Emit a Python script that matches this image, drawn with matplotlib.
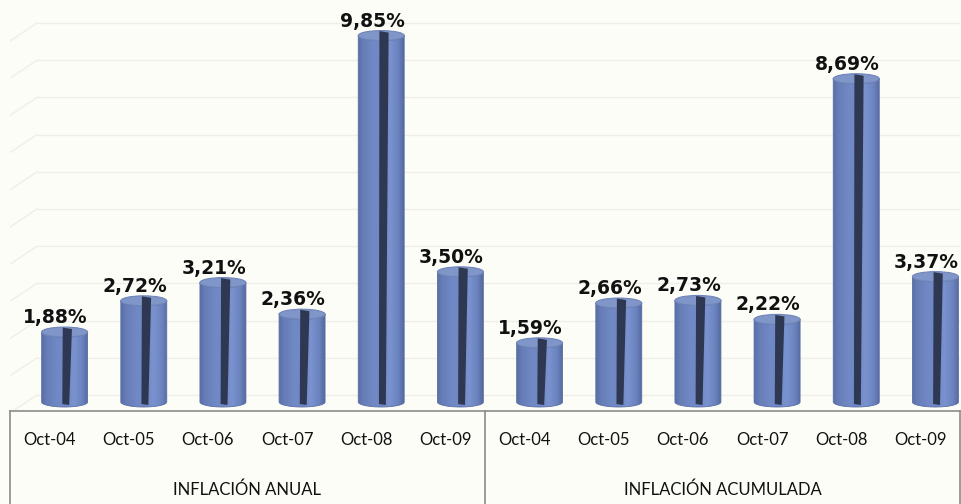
import numpy as np
import matplotlib
matplotlib.use("Agg")
import matplotlib.pyplot as plt
from matplotlib.patches import Ellipse, Polygon
from matplotlib.colors import LinearSegmentedColormap

# ---- data ----
months = ["Oct-04", "Oct-05", "Oct-06", "Oct-07", "Oct-08", "Oct-09"]
groups = ["INFLACIÓN ANUAL", "INFLACIÓN ACUMULADA"]
anual = [1.88, 2.72, 3.21, 2.36, 9.85, 3.50]
acumulada = [1.59, 2.66, 2.73, 2.22, 8.69, 3.37]

values = anual + acumulada
labels = months + months
n = len(values)

# ---- figure ----
W, H, DPI = 962, 504, 100
fig = plt.figure(figsize=(W / DPI, H / DPI), dpi=DPI)
bg = "#fdfdf8"
fig.patch.set_facecolor(bg)

ax_left, ax_right, ax_bot_px = 10, 960, 411
ax = fig.add_axes([ax_left / W, (H - ax_bot_px) / H, (ax_right - ax_left) / W, ax_bot_px / H])
ax.set_facecolor(bg)
ax.set_xlim(-0.5, n - 0.5)
ppu = 37.2
ax.set_ylim(-9 / ppu, 402 / ppu)

slot_px = (ax_right - ax_left) / n
px2x = 1.0 / slot_px
px2y = 1.0 / ppu

for s in ["top", "right", "left"]:
    ax.spines[s].set_visible(False)
ax.spines["bottom"].set_color("#8c8c8c")
ax.spines["bottom"].set_linewidth(1.2)
ax.set_yticks([])

# ---- gridlines (back wall, with left side wall diagonal) ----
grid_off = 7 * px2y
wall_x = -0.5 + 27 * px2x
gcol = "#f1eee9"
for k in range(0, 11):
    gy = k + grid_off
    ax.plot([wall_x, n - 0.5], [gy, gy], color=gcol, lw=1.0, zorder=1, solid_capstyle="butt")
    ax.plot([-0.5, wall_x], [gy - 18 * px2y, gy], color=gcol, lw=1.0, zorder=1)

# ---- cylinders ----
cmap = LinearSegmentedColormap.from_list(
    "cyl",
    [(0.0, "#5a6fa6"), (0.12, "#677eb8"), (0.35, "#7189c5"), (0.5, "#6f87c3"),
     (0.7, "#7a93cf"), (0.88, "#6a82bd"), (1.0, "#55699f")])
grad = np.linspace(0, 1, 256).reshape(1, -1)

bar_w = 46 * px2x
shift = 15 * px2x
eh = 10 * px2y  # ellipse full height in data units

for i, v in enumerate(values):
    xc = i + shift
    x0, x1 = xc - bar_w / 2, xc + bar_w / 2
    t = np.linspace(np.pi, 2 * np.pi, 60)
    bottom_arc = np.column_stack([xc + bar_w / 2 * np.cos(t), 0 + eh / 2 * np.sin(t)])
    top_arc = np.column_stack([xc + bar_w / 2 * np.cos(t[::-1]), v + eh / 2 * np.sin(t[::-1])])
    body = np.vstack([[x0, v], bottom_arc, [x1, v], top_arc])
    clip = Polygon(body, closed=True, transform=ax.transData, facecolor="none", edgecolor="none")
    ax.add_patch(clip)
    im = ax.imshow(grad, cmap=cmap, aspect="auto", extent=[x0, x1, -eh, v + eh],
                   zorder=3, interpolation="bilinear")
    im.set_clip_path(clip)
    ax.add_patch(Polygon(body, closed=True, facecolor="none", edgecolor="#5a6ea3",
                         lw=0.6, zorder=3.5))
    ax.add_patch(Ellipse((xc, v), bar_w, eh, facecolor="#8196c8", edgecolor="#6f84b8",
                         lw=0.8, zorder=4))
    slit = [(x0 + 0.46 * (x1 - x0), v + eh * 0.45),
            (x0 + 0.66 * (x1 - x0), v + eh * 0.3),
            (x0 + 0.60 * (x1 - x0), 0 - eh * 0.3),
            (x0 + 0.45 * (x1 - x0), 0 - eh * 0.2)]
    ax.add_patch(Polygon(slit, closed=True, facecolor="#2f3853", edgecolor="none", zorder=5))
    ax.annotate(f"{v:.2f}%".replace(".", ","), xy=(xc, v), xytext=(-9, 9),
                textcoords="offset pixels", ha="center", va="baseline",
                fontsize=13.5, fontweight="bold", family="DejaVu Sans", color="#111111",
                zorder=6)

# ---- category axis ----
ax.set_xticks(range(n))
ax.set_xticklabels(labels, fontsize=12, family="Lato", color="#111111")
ax.tick_params(axis="x", length=0, pad=15)

xt = ax.get_xaxis_transform()
depth = (H - ax_bot_px) / ax_bot_px
for xs in [-0.5, (n / 2) - 0.5, n - 0.5]:
    ax.plot([xs, xs], [0, -depth], transform=xt, color="#8c8c8c", lw=1.2, clip_on=False)

for gi, g in enumerate(groups):
    xm = (n / 2) * gi + (n / 2 - 1) / 2
    ax.text(xm, -(490 - ax_bot_px) / ax_bot_px, g, transform=xt, ha="center", va="center",
            fontsize=12, family="Lato", color="#111111")

fig.savefig("out.png", dpi=DPI, facecolor=bg)
